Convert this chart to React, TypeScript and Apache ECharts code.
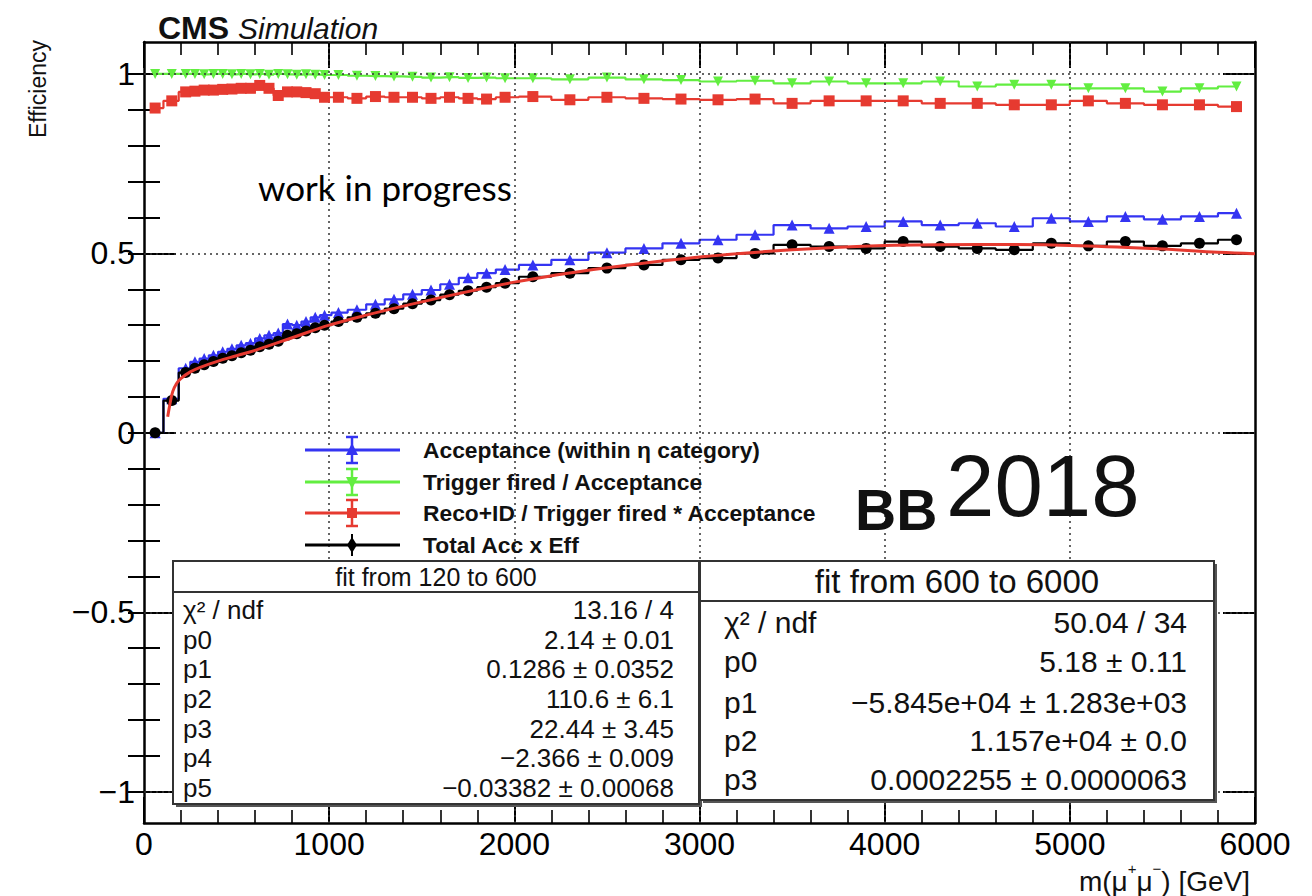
import React, { useEffect, useRef } from "react";
import * as echarts from "echarts";

// Bin centres of the dimuon mass histogram [GeV]
const massBins = [
  60, 150,
  225, 275, 325, 375, 425, 475, 525, 575, 625, 675, 725, 775, 825, 875, 925, 975,
  1050, 1150, 1250, 1350, 1450, 1550, 1650, 1750, 1850, 1950,
  2100, 2300, 2500, 2700, 2900, 3100, 3300, 3500, 3700, 3900,
  4100, 4300, 4500, 4700, 4900, 5100, 5300, 5500, 5700, 5900,
];

const acceptance = [
  0.0, 0.095,
  0.18, 0.198, 0.207, 0.216, 0.226, 0.234, 0.244, 0.25, 0.263, 0.272, 0.278, 0.303, 0.3, 0.31, 0.322, 0.328,
  0.335, 0.343, 0.358, 0.372, 0.386, 0.398, 0.414, 0.432, 0.445, 0.455,
  0.468, 0.482, 0.502, 0.514, 0.528, 0.538, 0.552, 0.579, 0.57, 0.575,
  0.589, 0.579, 0.584, 0.575, 0.598, 0.589, 0.603, 0.595, 0.603, 0.612,
];

const triggerOverAcceptance = [
  1.0, 1.0,
  1.0, 1.0, 0.999, 1.0, 1.0, 0.999, 1.0, 0.999, 1.0, 0.998, 1.0, 0.999, 0.998, 0.999, 0.998, 0.997,
  0.997, 0.995, 0.994, 0.993, 0.992, 0.99, 0.991, 0.989, 0.99, 0.988,
  0.988, 0.985, 0.99, 0.985, 0.983, 0.979, 0.981, 0.974, 0.979, 0.974,
  0.974, 0.979, 0.965, 0.97, 0.97, 0.96, 0.96, 0.951, 0.96, 0.965,
];

const recoOverTrigger = [
  0.905, 0.925,
  0.95, 0.952, 0.955, 0.955, 0.957, 0.958, 0.96, 0.96, 0.968, 0.96, 0.94, 0.95, 0.95, 0.948, 0.945, 0.935,
  0.935, 0.932, 0.937, 0.935, 0.935, 0.932, 0.935, 0.932, 0.93, 0.935,
  0.937, 0.928, 0.935, 0.932, 0.93, 0.928, 0.93, 0.918, 0.925, 0.925,
  0.925, 0.918, 0.918, 0.914, 0.914, 0.925, 0.918, 0.914, 0.914, 0.909,
];

const totalAccEff = [
  0.0, 0.09,
  0.168, 0.18, 0.19, 0.199, 0.208, 0.215, 0.223, 0.23, 0.24, 0.247, 0.255, 0.272, 0.276, 0.284, 0.293, 0.3,
  0.31, 0.322, 0.333, 0.346, 0.36, 0.37, 0.385, 0.396, 0.406, 0.417,
  0.435, 0.445, 0.459, 0.468, 0.482, 0.487, 0.5, 0.524, 0.519, 0.514,
  0.533, 0.519, 0.514, 0.51, 0.528, 0.521, 0.533, 0.521, 0.528, 0.538,
];

// Piecewise fit of the total efficiency (120-600 and 600-6000 GeV)
const fitMass = [
  128, 140, 155, 175, 200, 250, 300, 400, 500, 600, 800, 1000, 1200, 1500,
  2000, 2500, 3000, 3500, 4000, 4500, 5000, 5500, 5800, 6000,
];
const fitValues = [
  0.045, 0.08, 0.115, 0.137, 0.152, 0.17, 0.182, 0.2, 0.215, 0.23, 0.265, 0.3, 0.328, 0.365,
  0.42, 0.46, 0.49, 0.51, 0.522, 0.525, 0.522, 0.512, 0.503, 0.499,
];

// Axis ticks
const yMajorTicks = [-1, -0.5, 0, 0.5, 1];
const yMinorTicks = [
  -1, -0.9, -0.8, -0.7, -0.6, -0.5, -0.4, -0.3, -0.2, -0.1, 0,
  0.1, 0.2, 0.3, 0.4, 0.5, 0.6, 0.7, 0.8, 0.9, 1,
];
const xGridLines = [1000, 2000, 3000, 4000, 5000];

// Legend and fit-result texts
const legendLabels = [
  "Acceptance (within η category)",
  "Trigger fired / Acceptance",
  "Reco+ID / Trigger fired * Acceptance",
  "Total Acc x Eff",
];
const lowFitTitle = "fit from 120 to 600";
const lowFitNames = ["χ² / ndf", "p0", "p1", "p2", "p3", "p4", "p5"];
const lowFitValues = [
  "13.16 / 4",
  "2.14 ± 0.01",
  "0.1286 ± 0.0352",
  "110.6 ± 6.1",
  "22.44 ± 3.45",
  "−2.366 ± 0.009",
  "−0.03382 ± 0.00068",
];
const highFitTitle = "fit from 600 to 6000";
const highFitNames = ["χ² / ndf", "p0", "p1", "p2", "p3"];
const highFitValues = [
  "50.04 / 34",
  "5.18 ± 0.11",
  "−5.845e+04 ± 1.283e+03",
  "1.157e+04 ± 0.0",
  "0.0002255 ± 0.0000063",
];

const FONT = '"Liberation Sans", Arial, Helvetica, sans-serif';
const BLUE = "#3434f2";
const GREEN = "#62ee40";
const RED = "#e63a30";
const BLACK = "#000000";

const Y_MIN = -1.087;
const Y_MAX = 1.089;

function txt(
  text: string,
  x: number,
  y: number,
  font: string,
  align: string = "left",
  extra: Record<string, unknown> = {}
) {
  return {
    type: "text",
    z: 100,
    x,
    y,
    ...extra,
    style: {
      text,
      font,
      fill: "#111",
      align,
      textAlign: align,
      verticalAlign: "middle",
      textVerticalAlign: "middle",
    },
  };
}

function legendGraphics() {
  const rowsY = [450, 482, 513, 545];
  const colors = [BLUE, GREEN, RED, BLACK];
  const out: any[] = [];
  rowsY.forEach((y, i) => {
    const c = colors[i];
    out.push({
      type: "line",
      z: 100,
      shape: { x1: 305, y1: y, x2: 400, y2: y },
      style: { stroke: c, lineWidth: 3 },
    });
    if (i < 3) {
      out.push({
        type: "line",
        z: 100,
        shape: { x1: 352, y1: y - 13, x2: 352, y2: y + 13 },
        style: { stroke: c, lineWidth: 2.5 },
      });
      out.push({
        type: "line",
        z: 100,
        shape: { x1: 346, y1: y - 13, x2: 358, y2: y - 13 },
        style: { stroke: c, lineWidth: 2.5 },
      });
      out.push({
        type: "line",
        z: 100,
        shape: { x1: 346, y1: y + 13, x2: 358, y2: y + 13 },
        style: { stroke: c, lineWidth: 2.5 },
      });
    } else {
      out.push({
        type: "line",
        z: 100,
        shape: { x1: 352, y1: y - 11, x2: 352, y2: y + 11 },
        style: { stroke: c, lineWidth: 2 },
      });
    }
    let marker: any;
    if (i === 0) {
      marker = { type: "polygon", shape: { points: [[352, y - 7], [346, y + 5], [358, y + 5]] } };
    } else if (i === 1) {
      marker = { type: "polygon", shape: { points: [[352, y + 7], [346, y - 5], [358, y - 5]] } };
    } else if (i === 2) {
      marker = { type: "rect", shape: { x: 347, y: y - 5, width: 10, height: 10 } };
    } else {
      marker = { type: "polygon", shape: { points: [[352, y - 8], [357, y], [352, y + 8], [347, y]] } };
    }
    out.push({ ...marker, z: 101, style: { fill: c } });
    out.push(txt(legendLabels[i], 423, y, `bold 22.8px ${FONT}`));
  });
  return out;
}

function fitBoxGraphics() {
  const out: any[] = [];
  // low-mass box
  out.push({
    type: "rect",
    z: 99,
    shape: { x: 176, y: 564, width: 526, height: 243 },
    style: { fill: "#555" },
  });
  out.push({
    type: "rect",
    z: 100,
    shape: { x: 173, y: 561, width: 526, height: 243 },
    style: { fill: "#fff", stroke: "#333", lineWidth: 2 },
  });
  out.push({
    type: "line",
    z: 100,
    shape: { x1: 173, y1: 592, x2: 699, y2: 592 },
    style: { stroke: "#333", lineWidth: 2 },
  });
  out.push(txt(lowFitTitle, 436, 577, `25px ${FONT}`, "center"));
  const lowRows = [610, 640, 669, 699, 729, 758, 788];
  lowRows.forEach((y, i) => {
    out.push(txt(lowFitNames[i], 183, y, `26px ${FONT}`));
    out.push(txt(lowFitValues[i], 674, y, `26px ${FONT}`, "right"));
  });

  // high-mass box
  out.push({
    type: "rect",
    z: 99,
    shape: { x: 703, y: 564, width: 514, height: 239 },
    style: { fill: "#555" },
  });
  out.push({
    type: "rect",
    z: 100,
    shape: { x: 700, y: 561, width: 514, height: 239 },
    style: { fill: "#fff", stroke: "#333", lineWidth: 2 },
  });
  out.push({
    type: "line",
    z: 100,
    shape: { x1: 700, y1: 601, x2: 1214, y2: 601 },
    style: { stroke: "#333", lineWidth: 2 },
  });
  out.push(txt(highFitTitle, 957, 581, `33px ${FONT}`, "center"));
  const highRows = [622, 661, 702, 740, 779];
  highRows.forEach((y, i) => {
    out.push(txt(highFitNames[i], 724, y, `30px ${FONT}`));
    out.push(txt(highFitValues[i], 1187, y, `30px ${FONT}`, "right"));
  });
  return out;
}

function buildOption(): echarts.EChartsOption {
  const tickLine = { color: "#000", width: 2 };
  const frameLine = { color: "#000", width: 2.5 };

  const xAxisBase = {
    type: "value" as const,
    min: 0,
    max: 6000,
    interval: 1000,
    splitLine: { show: false },
    axisLine: { show: true, onZero: false, lineStyle: frameLine },
    axisTick: { show: true, inside: true, length: 26, lineStyle: tickLine },
    minorTick: { show: true, splitNumber: 5, length: 13, lineStyle: { color: "#000", width: 1.6 } },
  };

  const yAxisBase = {
    type: "value" as const,
    min: Y_MIN,
    max: Y_MAX,
    splitLine: { show: false },
  };

  const fmt = (v: number) => (v < 0 ? "−" + String(Math.abs(v)) : String(v));

  const series: any[] = [
    {
      type: "line",
      name: "grid",
      data: [],
      silent: true,
      z: 1,
      markLine: {
        silent: true,
        symbol: "none",
        label: { show: false },
        lineStyle: { color: "#333", type: [2, 4], width: 1.5 },
        data: [
          ...xGridLines.map((v) => ({ xAxis: v })),
          ...yMajorTicks.map((v) => ({ yAxis: v })),
        ],
      },
    },
  ];

  const dataSeries = [
    { name: legendLabels[0], values: acceptance, color: BLUE, symbol: "triangle", rotate: 0, size: 11 },
    { name: legendLabels[1], values: triggerOverAcceptance, color: GREEN, symbol: "triangle", rotate: 180, size: 10 },
    { name: legendLabels[2], values: recoOverTrigger, color: RED, symbol: "rect", rotate: 0, size: 11 },
    { name: legendLabels[3], values: totalAccEff, color: BLACK, symbol: "circle", rotate: 0, size: 11 },
  ];
  dataSeries.forEach((s, i) => {
    series.push({
      type: "line",
      name: s.name,
      step: "middle",
      data: massBins.map((m, k) => [m, s.values[k]]),
      symbol: s.symbol,
      symbolRotate: s.rotate,
      symbolSize: s.size,
      showAllSymbol: true,
      z: 3 + i,
      itemStyle: { color: s.color },
      lineStyle: { color: s.color, width: 2.2 },
    });
  });

  series.push({
    type: "line",
    name: "fit",
    data: fitMass.map((m, k) => [m, fitValues[k]]),
    smooth: 0.4,
    symbol: "none",
    z: 9,
    lineStyle: { color: RED, width: 3 },
  });

  return {
    animation: false,
    backgroundColor: "#fff",
    grid: { left: 144, right: 57, top: 42, bottom: 73, containLabel: false },
    xAxis: [
      {
        ...xAxisBase,
        position: "bottom",
        axisLabel: {
          show: true,
          fontSize: 32,
          fontFamily: FONT,
          color: "#000",
          margin: 5,
          showMinLabel: true,
          showMaxLabel: true,
          formatter: (v: number) => String(v),
        },
      },
      { ...xAxisBase, position: "top", axisLabel: { show: false } },
    ],
    yAxis: [
      {
        ...yAxisBase,
        position: "left",
        axisLine: { show: true, onZero: false, lineStyle: frameLine },
        axisTick: { show: true, inside: true, length: 32, lineStyle: tickLine, customValues: yMajorTicks },
        axisLabel: {
          show: true,
          customValues: yMajorTicks,
          formatter: fmt,
          fontSize: 32,
          fontFamily: FONT,
          color: "#000",
          margin: 9,
        },
      },
      {
        ...yAxisBase,
        position: "left",
        axisLine: { show: false },
        axisTick: { show: true, inside: true, length: 16, lineStyle: tickLine, customValues: yMinorTicks },
        axisLabel: { show: false },
      },
      {
        ...yAxisBase,
        position: "right",
        axisLine: { show: true, onZero: false, lineStyle: frameLine },
        axisTick: { show: true, inside: true, length: 32, lineStyle: tickLine, customValues: yMajorTicks },
        axisLabel: { show: false },
      },
      {
        ...yAxisBase,
        position: "right",
        axisLine: { show: false },
        axisTick: { show: true, inside: true, length: 16, lineStyle: tickLine, customValues: yMinorTicks },
        axisLabel: { show: false },
      },
    ],
    series,
    graphic: {
      elements: [
        txt("CMS", 158, 28, `bold 32px ${FONT}`),
        txt("Simulation", 238, 28, `italic 30px ${FONT}`),
        txt("Efficiency", 38, 40, `23px ${FONT}`, "right", { rotation: Math.PI / 2 }),
        {
          type: "text",
          z: 100,
          x: 1250,
          y: 878,
          style: {
            text: "{n|m(μ}{s|+}{n|μ}{s|−}{n|) [GeV]}",
            align: "right",
            textAlign: "right",
            verticalAlign: "middle",
            textVerticalAlign: "middle",
            fill: "#111",
            rich: {
              n: { fontSize: 28, fontFamily: FONT, fill: "#111", lineHeight: 34, verticalAlign: "bottom" },
              s: { fontSize: 15, fontFamily: FONT, fill: "#111", lineHeight: 34, verticalAlign: "top" },
            },
          },
        },
        {
          type: "text",
          z: 100,
          x: 258,
          y: 187,
          style: {
            text: "work in progress",
            font: "35px Lato, Carlito, sans-serif",
            fill: "#000",
            align: "left",
            textAlign: "left",
            verticalAlign: "middle",
            textVerticalAlign: "middle",
          },
        },
        txt("BB", 855, 510, `bold 57px ${FONT}`),
        txt("2018", 946, 485, `87px ${FONT}`),
        ...legendGraphics(),
        ...fitBoxGraphics(),
      ],
    },
  } as echarts.EChartsOption;
}

export default function App() {
  const ref = useRef<HTMLDivElement>(null);
  useEffect(() => {
    if (!ref.current) return;
    const chart = echarts.init(ref.current, undefined, { renderer: "svg" });
    chart.setOption(buildOption());
    return () => chart.dispose();
  }, []);
  return (
    <div
      ref={ref}
      style={{ position: "absolute", left: 0, top: 0, width: 1312, height: 896, background: "#fff" }}
    />
  );
}
